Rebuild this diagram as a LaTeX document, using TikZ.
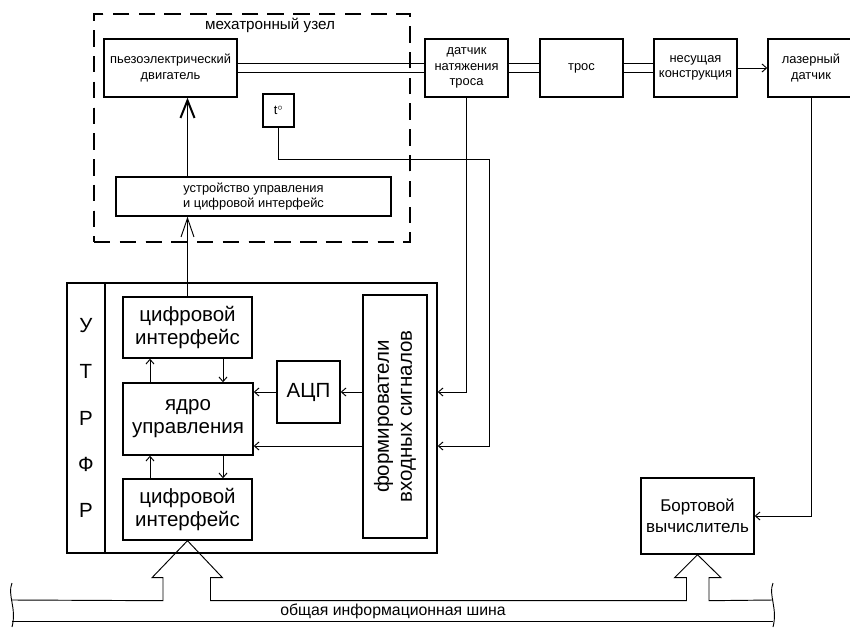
\documentclass[tikz,border=0pt]{standalone}
\usepackage{fontspec}
\setmainfont{Liberation Sans}
\usepackage{tikz}
\usetikzlibrary{arrows.meta, calc}

\begin{document}
\begin{tikzpicture}[x=0.3mm, y=-0.3mm,
    box/.style={draw, line width=1.2pt, align=center, inner sep=0pt},
    small/.style={font=\fontsize{11}{13}\selectfont},
    big/.style={font=\fontsize{17.5}{19.6}\selectfont},
    wire/.style={line width=0.8pt},
    sig/.style={wire, -{Straight Barb[length=4pt, width=7pt]}},
    pipe/.style={double, line width=0.9pt, double distance=6pt},
    frame/.style={draw, line width=1.6pt, dash pattern=on 14pt off 8pt}
  ]
    \useasboundingbox (0,0) rectangle (850,628);

    % Mechatronic unit
    \node[frame, minimum width=94.8mm, minimum height=68.4mm] (mech) at (252,128) {};
    \node[font=\fontsize{13}{15}\selectfont] (mechlbl) at (270,25) {мехатронный узел};
    \node[box, small, minimum width=39.9mm, minimum height=17.4mm] (piezo) at (170.5,68) {пьезоэлектрический\\двигатель};
    \node[box, small, minimum width=9.3mm, minimum height=9.9mm] (temp) at (278.5,110.5) {t$^{\circ}$};
    \node[box, small, minimum width=82.5mm, minimum height=11.7mm] (ctrl) at (253.5,196.5) {устройство управления\\и цифровой интерфейс};

    % Cable chain
    \node[box, small, minimum width=24.9mm, minimum height=17.4mm] (tension) at (466.5,68) {датчик\\натяжения\\троса};
    \node[box, small, minimum width=24.9mm, minimum height=17.4mm] (cable) at (581.5,68) {трос};
    \node[box, small, minimum width=24.9mm, minimum height=17.4mm] (carrier) at (695.5,68) {несущая\\конструкция};
    \node[box, small, minimum width=25.8mm, minimum height=17.4mm] (laser) at (811,68) {лазерный\\датчик};

    % UTRF
    \node[box, minimum width=111mm, minimum height=81mm] (utrf) at (252,418) {};
    \coordinate (div) at (105,0);
    \draw[line width=1.2pt] (utrf.north -| div) -- (utrf.south -| div);
    \node[font=\fontsize{17.5}{39.5}\selectfont, align=center] (utrflbl) at (86,418) {У\\Т\\Р\\Ф\\Р};
    \node[box, big, minimum width=38.7mm, minimum height=18.3mm] (dif1) at (187.5,327.5) {цифровой\\интерфейс};
    \node[box, big, minimum width=39mm, minimum height=21.6mm] (core) at (188,419) {ядро\\управления};
    \node[box, big, minimum width=38.7mm, minimum height=18.3mm] (dif2) at (187.5,509.5) {цифровой\\интерфейс};
    \node[box, big, minimum width=18.9mm, minimum height=18.6mm] (adc) at (308.5,392) {АЦП};
    \node[box, minimum width=19.2mm, minimum height=72.9mm] (shaper) at (395,416.5) {};
    \node[big, rotate=90, align=center] (shaperlbl) at (shaper) {формирователи\\входных сигналов};

    % On-board computer
    \node[box, font=\fontsize{14.5}{18}\selectfont, minimum width=33.9mm, minimum height=22.8mm] (obc) at (697.5,516) {Бортовой\\вычислитель};

    % Mechanical links
    \draw[pipe] (piezo.east) -- (tension.west);
    \draw[pipe] (tension.east) -- (cable.west);
    \draw[pipe] (cable.east) -- (carrier.west);
    \draw[sig] (carrier.east) -- (laser.west);
    \node[frame, minimum width=94.8mm, minimum height=68.4mm] (mechtop) at (252,128) {};

    % Control path
    \draw[line width=1.7pt, -{Straight Barb[length=15pt, width=12pt, line width=1.7pt]}] (dif1.north |- ctrl.north) -- (dif1.north |- piezo.south);
    \draw[wire, -{Straight Barb[length=16pt, width=11pt]}] (dif1.north) -- (dif1.north |- ctrl.south);

    % Inside UTRF
    \coordinate (colL) at (150,0);
    \coordinate (colR) at (223,0);
    \coordinate (inB) at (0,446);
    \draw[sig] (core.north -| colL) -- (dif1.south -| colL);
    \draw[sig] (dif1.south -| colR) -- (core.north -| colR);
    \draw[sig] (dif2.north -| colL) -- (core.south -| colL);
    \draw[sig] (core.south -| colR) -- (dif2.north -| colR);
    \draw[sig] (adc.west) -- (core.east |- adc.west);
    \draw[sig] (shaper.west |- adc.east) -- (adc.east);
    \draw[sig] (shaper.west |- inB) -- (core.east |- inB);

    % Sensor lines
    \coordinate (tturn) at (489,159);
    \draw[sig] (tension.south) |- (utrf.east |- adc.east);
    \draw[sig] (temp.south) |- (tturn) |- (utrf.east |- inB);
    \draw[sig] (laser.south) |- (obc.east);

    % Bus
    \coordinate (busL) at (12,600);
    \coordinate (busR) at (773,600);
    \draw[wire] (busL) -- ($(dif2.south)+(-24.5,60)$) -- ++(0,-23) -- ++(-11,0) -- (dif2.south)
      -- ++(35,37) -- ++(-12,0) |- ($(obc.south)+(-11,46)$) -- ++(0,-23) -- ++(-12,0)
      -- (obc.south) -- ++(23.5,23) -- ++(-12,0) -- ++(0,23) -- (busR);
    \draw[wire] (12,621) -- (773,621);
    \draw[wire] (12,583) .. controls (7,595) and (17,608) .. (12,627);
    \draw[wire] (773,583) .. controls (768,595) and (778,608) .. (773,627);
    \node[font=\fontsize{13.5}{15}\selectfont] (buslbl) at (393,611) {общая информационная шина};
\end{tikzpicture}
\end{document}
